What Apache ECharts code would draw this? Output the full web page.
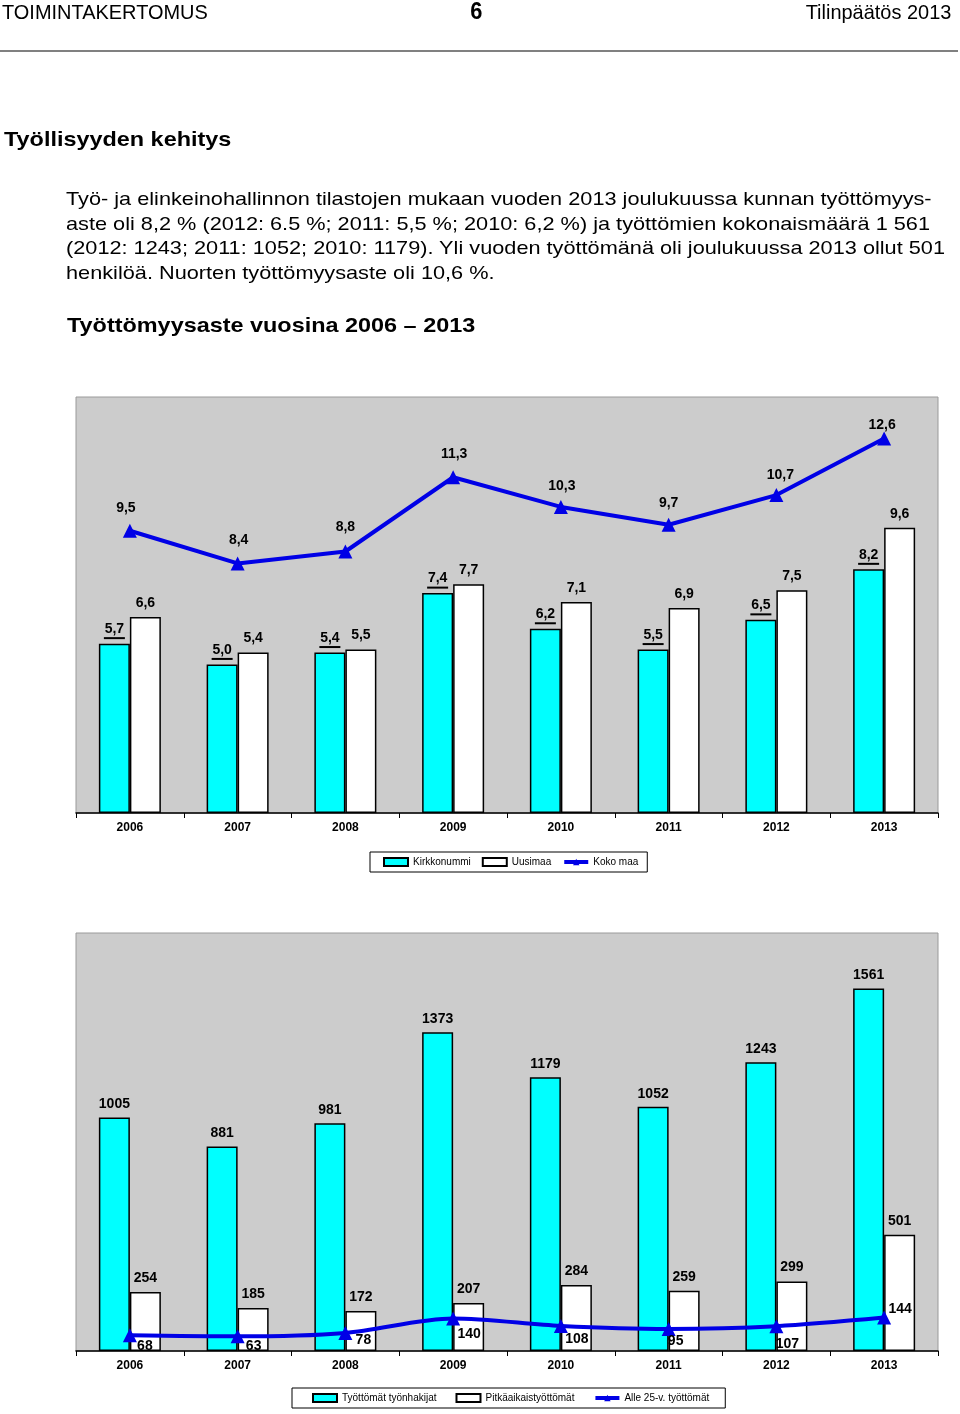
<!DOCTYPE html>
<html>
<head>
<meta charset="utf-8">
<script src="https://cdn.jsdelivr.net/npm/echarts@6/dist/echarts.min.js"></script>
<style>
  html, body { margin: 0; padding: 0; background: #fff; }
  body { width: 960px; height: 1414px; position: relative; overflow: hidden;
         font-family: 'Liberation Sans', Arial, Helvetica, sans-serif; color: #000; }
  #chart { position: absolute; left: 0; top: 0; width: 960px; height: 1414px; }
  .t { position: absolute; white-space: nowrap; z-index: 5; }
  .hdr { font-size: 21px; line-height: 21px; top: 1px; transform: scaleX(0.95); }
  .rule { position: absolute; left: 0; top: 50px; width: 958px; height: 2px; background: #808080; }
  .h1 { font-size: 21px; line-height: 21px; font-weight: bold; transform: scaleX(1.115); transform-origin: left center; }
  .p { font-size: 19px; line-height: 19px; transform: scaleX(1.143); transform-origin: left center; left: 66px; }
</style>
</head>
<body>
<div id="chart"></div>
<div class="t hdr" style="left:2px; transform-origin:left center;">TOIMINTAKERTOMUS</div>
<div class="t hdr" style="left:470px; font-weight:bold; font-size:23px; line-height:23px; top:0px;">6</div>
<div class="t hdr" style="right:9px; transform-origin:right center;">Tilinpäätös 2013</div>
<div class="rule"></div>
<div class="t h1" style="left:4px; top:128px;">Työllisyyden kehitys</div>
<div class="t p" style="top:189px;">Työ- ja elinkeinohallinnon tilastojen mukaan vuoden 2013 joulukuussa kunnan työttömyys-</div>
<div class="t p" style="top:214px;">aste oli 8,2 % (2012: 6.5 %; 2011: 5,5 %; 2010: 6,2 %) ja työttömien kokonaismäärä 1 561</div>
<div class="t p" style="top:238px;">(2012: 1243; 2011: 1052; 2010: 1179). Yli vuoden työttömänä oli joulukuussa 2013 ollut 501</div>
<div class="t p" style="top:263px;">henkilöä. Nuorten työttömyysaste oli 10,6 %.</div>
<div class="t h1" style="left:67px; top:314px;">Työttömyysaste vuosina 2006 – 2013</div>

<script>
// ---- data ----
const years = ['2006', '2007', '2008', '2009', '2010', '2011', '2012', '2013'];
const kirkkonummi = [5.7, 5.0, 5.4, 7.4, 6.2, 5.5, 6.5, 8.2];
const uusimaa = [6.6, 5.4, 5.5, 7.7, 7.1, 6.9, 7.5, 9.6];
const kokoMaa = [9.5, 8.4, 8.8, 11.3, 10.3, 9.7, 10.7, 12.6];
const tyonhakijat = [1005, 881, 981, 1373, 1179, 1052, 1243, 1561];
const pitkaaikais = [254, 185, 172, 207, 284, 259, 299, 501];
const alle25 = [68, 63, 78, 140, 108, 95, 107, 144];

// ---- label placement (style) ----
const kokoMaaLabelOffsets = [[-4, -23], [1, -23], [0, -24], [1, -23], [1, -21], [0, -22], [4, -20], [-2, -13]];
const alle25LabelOffsets = [[15, 11], [16, 10], [18, 7], [16, 16], [16, 13], [7, 12], [11, 18], [16, -8]];

const FONT = "'Liberation Sans', Arial, Helvetica, sans-serif";
const BLUE = '#0000e6';
const CYAN = '#00ffff';
const fmt1 = v => v.toFixed(1).replace('.', ',');

const barBase = {
  type: 'bar',
  barWidth: 31,
  barGap: '0%',
  itemStyle: { borderColor: '#000', borderWidth: 1.5 }
};
const plainLabel = {
  show: true, position: 'top', distance: 6,
  fontFamily: FONT, fontSize: 14, fontWeight: 'bold', color: '#000', lineHeight: 16
};

const xAxisBase = {
  type: 'category',
  data: years,
  axisLine: { lineStyle: { color: '#000', width: 1.5 } },
  axisTick: { show: true, length: 5, lineStyle: { color: '#000', width: 1 } },
  axisLabel: { fontFamily: FONT, fontSize: 12, fontWeight: 'bold', color: '#000', margin: 9 },
  splitLine: { show: false }
};

const legendBase = {
  orient: 'horizontal',
  itemWidth: 24, itemHeight: 8,
  borderColor: '#000', borderWidth: 1,
  backgroundColor: '#fff',
  textStyle: { fontFamily: FONT, fontSize: 10, color: '#000' }
};

const chart = echarts.init(document.getElementById('chart'), null, { renderer: 'canvas' });
chart.setOption({
  animation: false,
  backgroundColor: 'transparent',
  textStyle: { fontFamily: FONT },
  grid: [
    { left: 76, top: 397, width: 862, height: 416, show: true, backgroundColor: '#cccccc', borderColor: '#9a9a9a', borderWidth: 1 },
    { left: 76, top: 933, width: 862, height: 418, show: true, backgroundColor: '#cccccc', borderColor: '#9a9a9a', borderWidth: 1 }
  ],
  xAxis: [
    Object.assign({ gridIndex: 0 }, xAxisBase),
    Object.assign({ gridIndex: 1 }, xAxisBase)
  ],
  yAxis: [
    { gridIndex: 0, type: 'value', min: 0, max: 14, show: false, splitLine: { show: false } },
    { gridIndex: 1, type: 'value', min: 0, max: 1800, show: false, splitLine: { show: false } }
  ],
  legend: [
    Object.assign({}, legendBase, {
      left: 370, top: 852, itemGap: 11,
      padding: [5, 9, 5, 13],
      data: [
        { name: 'Kirkkonummi', icon: 'rect' },
        { name: 'Uusimaa', icon: 'rect' },
        { name: 'Koko maa', lineStyle: { width: 4 } }
      ]
    }),
    Object.assign({}, legendBase, {
      left: 292, top: 1388, itemGap: 19,
      padding: [5, 16, 5, 20],
      data: [
        { name: 'Työttömät työnhakijat', icon: 'rect' },
        { name: 'Pitkäaikaistyöttömät', icon: 'rect' },
        { name: 'Alle 25-v. työttömät', lineStyle: { width: 4 } }
      ]
    })
  ],
  series: [
    Object.assign({}, barBase, {
      name: 'Kirkkonummi', xAxisIndex: 0, yAxisIndex: 0, data: kirkkonummi,
      itemStyle: { color: CYAN, borderColor: '#000', borderWidth: 1.5 },
      label: {
        show: true, position: 'top', distance: 4,
        formatter: p => '{v|' + fmt1(p.value) + '}\n{u| }',
        rich: {
          v: { fontFamily: FONT, fontSize: 14, fontWeight: 'bold', color: '#000', lineHeight: 15, align: 'center' },
          u: { width: 21, height: 2, lineHeight: 3, fontSize: 1, backgroundColor: '#000', align: 'center' }
        }
      }
    }),
    Object.assign({}, barBase, {
      name: 'Uusimaa', xAxisIndex: 0, yAxisIndex: 0, data: uusimaa,
      itemStyle: { color: '#ffffff', borderColor: '#000', borderWidth: 1.5 },
      label: Object.assign({}, plainLabel, { formatter: p => fmt1(p.value) })
    }),
    {
      name: 'Koko maa', type: 'line', xAxisIndex: 0, yAxisIndex: 0, z: 4,
      data: kokoMaa.map((v, i) => ({ value: v, label: { offset: kokoMaaLabelOffsets[i] } })),
      symbol: 'triangle', symbolSize: 14,
      lineStyle: { color: BLUE, width: 4 },
      itemStyle: { color: BLUE },
      label: {
        show: true, position: 'inside',
        fontFamily: FONT, fontSize: 14, fontWeight: 'bold', color: '#000',
        formatter: p => fmt1(p.value)
      }
    },
    Object.assign({}, barBase, {
      name: 'Työttömät työnhakijat', xAxisIndex: 1, yAxisIndex: 1, data: tyonhakijat,
      itemStyle: { color: CYAN, borderColor: '#000', borderWidth: 1.5 },
      label: Object.assign({}, plainLabel, { distance: 5 })
    }),
    Object.assign({}, barBase, {
      name: 'Pitkäaikaistyöttömät', xAxisIndex: 1, yAxisIndex: 1, data: pitkaaikais,
      itemStyle: { color: '#ffffff', borderColor: '#000', borderWidth: 1.5 },
      label: Object.assign({}, plainLabel)
    }),
    {
      name: 'Alle 25-v. työttömät', type: 'line', xAxisIndex: 1, yAxisIndex: 1, z: 4,
      data: alle25.map((v, i) => ({ value: v, label: { offset: alle25LabelOffsets[i] } })),
      smooth: 0.3,
      symbol: 'triangle', symbolSize: 14,
      lineStyle: { color: BLUE, width: 4 },
      itemStyle: { color: BLUE },
      label: {
        show: true, position: 'inside',
        fontFamily: FONT, fontSize: 14, fontWeight: 'bold', color: '#000'
      }
    }
  ]
});
</script>
</body>
</html>
